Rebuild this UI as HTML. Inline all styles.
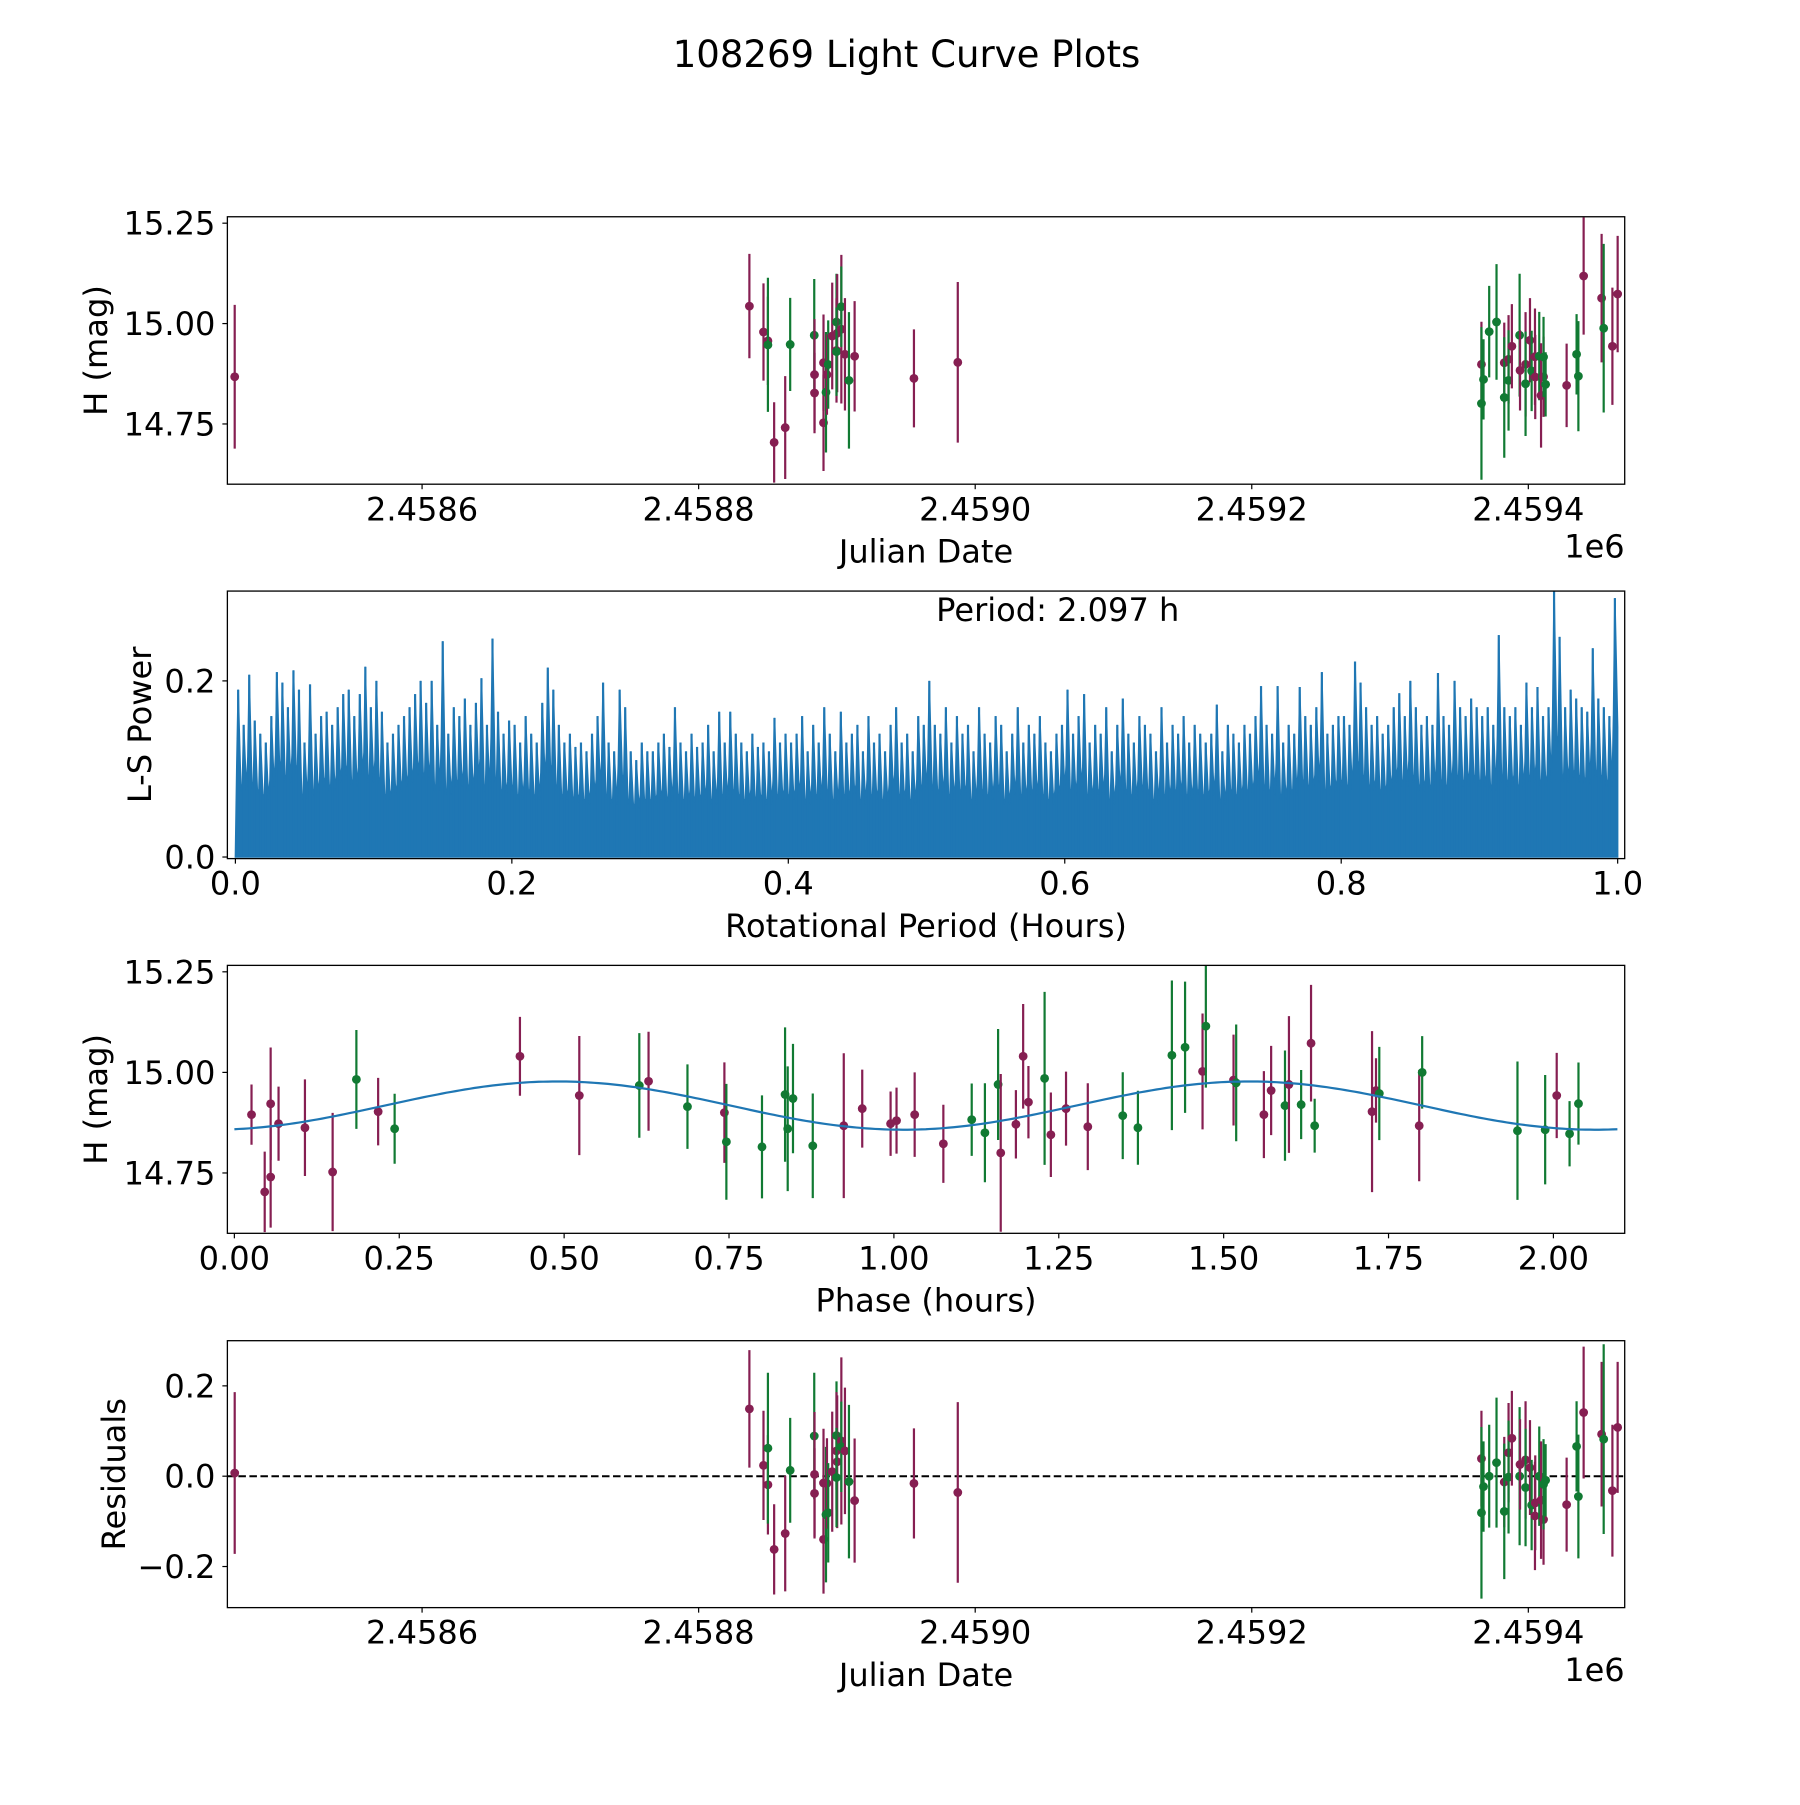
<!DOCTYPE html>
<html><head><meta charset="utf-8"><style>
html,body{margin:0;padding:0;background:#fff}
svg text{font-family:"DejaVu Sans","Liberation Sans",sans-serif;fill:#000}
</style></head><body>
<svg id="fig" width="1800" height="1800" viewBox="-2 0 1797 1793.7" preserveAspectRatio="none" xmlns="http://www.w3.org/2000/svg">
<rect x="-10" y="-10" width="1820" height="1820" fill="#fff"/>
<text x="903" y="67" font-size="37" text-anchor="middle">108269 Light Curve Plots</text>
</svg>
<script>
// ---- Panel 1/4 data (JD offset from 2458000) ----
const jdDays = [464.5,836.7,846.9,850.1,850.1,854.6,862.6,866.2,883.6,883.8,883.8,890.3,890.3,892.1,892.8,893.7,896.6,899.7,900.2,899.7,899.7,903.2,903.2,905.8,908.7,912.8,955.7,987.4,
1366.1,1367.6,1366.1,1371.7,1377.0,1382.6,1382.6,1385.7,1385.7,1388.1,1393.7,1394.0,1398.0,1398.0,1401.2,1402.4,1404.8,1405.0,1407.9,1409.2,1411.0,1411.0,1412.5,1427.7,1434.9,1436.2,1440.0,1453.0,1454.5,1460.8,1464.6];
const jdMags = [14.8675,15.0435,14.979,14.957,14.947,14.704,14.741,14.948,14.971,14.873,14.827,14.753,14.9025,14.829,14.873,14.898,14.969,15.004,14.976,14.933,14.93,14.986,15.042,14.9235,14.8585,14.9185,14.8635,14.9035,
14.8985,14.861,14.801,14.98,15.004,14.9025,14.816,14.911,14.8585,14.9435,14.971,14.8835,14.8985,14.85,14.9585,14.882,14.9175,14.867,14.919,14.821,14.8675,14.9168,14.8485,14.846,14.9235,14.869,15.1185,15.0635,14.9885,14.9435,15.0735];
const jdErrs = [.179,.13,.121,.11,.167,.10,.128,.116,.14,.138,.1,.12,.12,.15,.1,.11,.133,.12,.147,.13,.11,.185,.1,.14,.17,.1375,.122,.2,
.106,.1,.19,.114,.144,.1,.15,.11,.125,.105,.153,.1,.13,.13,.105,.1,.12,.105,.11,.13,.1,.1,.08,.104,.1,.137,.146,.16,.21,.146,.145];
const jdFilters = "mmmmgmmggmmmmgmgmgmmgmgmgmmm"+"mggggmgmgmgmmgmgmmgmmggmggmmgmm";
const residuals = [.007,.149,.024,-.019,.062,-.162,-.127,.013,.089,.004,-.038,-.14,-.015,-.085,-.016,-.081,.01,.09,.032,.056,-.003,.078,.065,.056,-.012,-.054,-.016,-.036,
.039,-.023,-.081,.0,.03,-.013,-.078,.052,-.002,.084,.0,.026,.036,-.025,.019,-.064,-.088,-.059,.0,-.053,-.096,-.018,-.009,-.063,.066,-.045,.141,.093,.082,-.032,.108];
const jdTicks = [2458600,2458800,2459000,2459200,2459400];
const jdTickLabels = ["2.4586","2.4588","2.4590","2.4592","2.4594"];

// ---- Panel 3 data (phased) ----
const phases = [.026,.046,.055,.055,.067,.107,.149,.185,.218,.243,.433,.523,.614,.628,.687,.743,.746,.80,.835,.839,.847,.877,.924,.952,.995,1.004,
1.0315,1.075,1.118,1.138,1.158,1.162,1.185,1.196,1.204,1.2285,1.238,1.261,1.294,1.347,1.370,1.4215,1.4415,1.468,1.473,1.515,1.519,1.561,1.572,1.593,1.599,1.6175,1.6325,1.638,1.725,1.731,1.736,1.7965,1.801,1.9455,1.9875,2.005,2.0245,2.038];
const phaseMags = [14.895,14.703,14.922,14.74,14.8725,14.8625,14.7525,14.9825,14.9025,14.86,15.04,14.9425,14.9675,14.978,14.915,14.90,14.8275,14.815,14.945,14.86,14.935,14.8175,14.8675,14.91,14.8725,14.88,
14.895,14.8225,14.8825,14.85,14.97,14.80,14.871,15.04,14.926,14.985,14.845,14.91,14.865,14.8925,14.8625,15.0425,15.0625,15.0025,15.115,14.981,14.974,14.895,14.955,14.9175,14.97,14.92,15.0725,14.8675,14.9025,14.955,14.9475,14.8675,15.00,14.855,14.8575,14.9425,14.8475,14.9225];
const phaseErrs = [.075,.1,.14,.126,.092,.12,.147,.123,.084,.087,.098,.148,.13,.123,.105,.125,.144,.128,.167,.155,.136,.13,.18,.097,.08,.082,
.105,.097,.09,.123,.138,.196,.085,.13,.09,.215,.105,.092,.108,.108,.092,.186,.163,.144,.153,.113,.145,.108,.111,.137,.17,.086,.145,.067,.2,.08,.116,.138,.09,.172,.136,.106,.081,.102];
const phaseFilters = "mmmmmmmgmgmmgmgmggggggmmmm"+"mmgggmmmmgmmmggggmgmgmmgmgmgmmgmgggmgg";
const fitParams = [14.9175, 0.06, 1.0485, 0.49]; // mean, amplitude, period(h), peak phase
const fitRange = [0, 2.097];

// ---- Panel 2 periodogram (bin peak powers, 0.004 h bins) ----
const lsPower = [
.19,.15,.207,.155,.14,.13,.16,.21,.198,.17,.212,.19,.13,.196,.14,.16,.165,.15,.17,.185,.19,.16,.185,.216,.17,
.2,.165,.13,.14,.15,.16,.17,.185,.2,.175,.2,.15,.245,.14,.17,.16,.18,.15,.175,.203,.15,.248,.165,.14,.155,
.15,.13,.16,.14,.13,.175,.215,.19,.15,.13,.14,.125,.13,.12,.14,.16,.198,.13,.12,.19,.17,.12,.11,.13,.12,
.12,.13,.14,.125,.17,.13,.12,.14,.125,.13,.15,.12,.165,.13,.165,.14,.13,.12,.14,.125,.13,.12,.158,.13,.14,
.13,.14,.16,.12,.15,.13,.17,.14,.12,.165,.13,.14,.15,.12,.16,.13,.14,.12,.15,.17,.13,.14,.12,.16,.15,
.2,.15,.14,.17,.13,.16,.14,.15,.12,.17,.14,.13,.16,.15,.12,.14,.17,.13,.15,.14,.16,.13,.12,.14,.15,
.19,.14,.16,.185,.13,.15,.14,.17,.12,.15,.18,.14,.13,.16,.15,.14,.12,.17,.13,.15,.14,.16,.13,.15,.14,
.13,.14,.173,.12,.15,.14,.13,.15,.14,.16,.194,.15,.14,.194,.13,.15,.14,.193,.16,.15,.17,.21,.14,.15,.16,
.16,.15,.222,.198,.17,.15,.16,.14,.15,.17,.186,.16,.2,.17,.15,.16,.15,.209,.16,.15,.2,.17,.16,.18,.17,
.16,.17,.15,.252,.17,.16,.17,.15,.198,.17,.193,.16,.17,.302,.25,.17,.19,.18,.17,.165,.237,.18,.17,.16,.294];
const lsBinWidth = 0.004;
const periodTicks = [0,0.2,0.4,0.6,0.8,1.0];
const powerTicks = [0,0.2];

const NS="http://www.w3.org/2000/svg";
const svg=document.getElementById('fig');
const COL={m:"#861f52",g:"#117a33"};
function mk(tag,attrs,parent){const e=document.createElementNS(NS,tag);for(const k in attrs)e.setAttribute(k,attrs[k]);(parent||svg).appendChild(e);return e;}
function txt(s,x,y,size,anchor,parent){const t=mk('text',{x:x,y:y,'font-size':size,'text-anchor':anchor||'middle'},parent);t.textContent=s;return t;}

const L=225,R=1620;
const panels=[[216,482.5],[589,855.6],[962,1229],[1336,1602]];
function scale(d0,d1,p0,p1){return v=>p0+(v-d0)/(d1-d0)*(p1-p0);}

function frame(i,name){
  const [t,b]=panels[i];
  const g=mk('g',{});
  
  
  const cp=mk('clipPath',{id:'clip'+i},g);
  mk('rect',{x:L,y:t,width:R-L,height:b-t},cp);
  const inner=mk('g',{'clip-path':'url(#clip'+i+')'},g);
  return {g,inner,t,b};
}
function border(f){mk('rect',{x:L,y:f.t,width:R-L,height:f.b-f.t,fill:'none',stroke:'#000','stroke-width':1.3},f.g);}
function xticks(f,vals,labels,sx){vals.forEach((v,i)=>{const x=sx(v);
  mk('line',{x1:x,x2:x,y1:f.b,y2:f.b+5,stroke:'#000','stroke-width':1.2},f.g);
  const t=txt(labels[i],x,f.b+36,32,'middle',f.g);
  
  });}
function yticks(f,vals,labels,sy){vals.forEach((v,i)=>{const y=sy(v);
  mk('line',{x1:L-5,x2:L,y1:y,y2:y,stroke:'#000','stroke-width':1.2},f.g);
  const t=txt(labels[i],213,y+11.5,32,'end',f.g);
  
  });}
function ylabel(f,s,x){const cy=(f.t+f.b)/2;const t=txt(s,x,cy,32,'middle',f.g);t.setAttribute('transform','rotate(-90 '+x+' '+cy+')');t.setAttribute('dominant-baseline','central');
  
  }
function xlabel(f,s){const t=txt(s,(L+R)/2,f.b+78,32,'middle',f.g);
  
  }
function errpoint(parent,x,y,yt,yb,c){
  const g=mk('g',{},parent);
  
  
  mk('line',{x1:x,x2:x,y1:yt,y2:yb,stroke:c,'stroke-width':2.2},g);
  mk('circle',{cx:x,cy:y,r:4.4,fill:c},g);
}
const jdMin=2458459.2,jdMax=2459469.7;
const sxJD=scale(jdMin,jdMax,L,R);

// Panel 1
(function(){
  const f=frame(0,'light-curve-panel');
  const sy=scale(14.6,15.266,f.b,f.t);
  jdDays.forEach((d,i)=>{const x=sxJD(2458000+d);errpoint(f.inner,x,sy(jdMags[i]),sy(jdMags[i]+jdErrs[i]),sy(jdMags[i]-jdErrs[i]),COL[jdFilters[i]]);});
  border(f);
  xticks(f,jdTicks,jdTickLabels,sxJD);
  yticks(f,[14.75,15.0,15.25],["14.75","15.00","15.25"],sy);
  ylabel(f,"H (mag)",94);xlabel(f,"Julian Date");
  const o=txt("1e6",R,f.b+73,32,'end',f.g);
})();

// Panel 2
(function(){
  const f=frame(1,'periodogram-panel');
  const sx=scale(-0.0058,1.0051,L,R), sy=scale(-0.0018,0.302,f.b,f.t);
  let pts=[[sx(0),sy(0)]];
  lsPower.forEach((p,i)=>{
    const c=(i+0.5)*lsBinWidth;
    const nxt=i+1<lsPower.length?lsPower[i+1]:p;
    pts.push([sx(c-lsBinWidth*0.25),sy(p*0.55)]);
    pts.push([sx(c),sy(p)]);
    pts.push([sx(c+lsBinWidth*0.5),sy(Math.min(p,nxt)*0.5)]);
  });
  pts.push([sx(lsPower.length*lsBinWidth),sy(0)]);
  const poly=mk('polygon',{points:pts.map(p=>p.join(',')).join(' '),fill:'#1f77b4',stroke:'#1f77b4','stroke-width':1.5,'stroke-linejoin':'miter'},f.inner);
  
  
  lsPower.forEach((p,i)=>{const x=sx((i+0.5)*lsBinWidth);mk('line',{x1:x,x2:x,y1:sy(0),y2:sy(p),stroke:'#1f77b4','stroke-width':2.2},f.inner);});
  border(f);
  xticks(f,periodTicks,periodTicks.map(v=>v.toFixed(1)),sx);
  yticks(f,powerTicks,powerTicks.map(v=>v.toFixed(1)),sy);
  ylabel(f,"L-S Power",138);xlabel(f,"Rotational Period (Hours)");
  const p=txt("Period: 2.097 h",1054,619,32,'middle',f.g);
})();

// Panel 3
(function(){
  const f=frame(2,'phased-curve-panel');
  const sx=scale(-0.0106,2.1081,L,R), sy=scale(14.6,15.266,f.b,f.t);
  phases.forEach((ph,i)=>errpoint(f.inner,sx(ph),sy(phaseMags[i]),sy(phaseMags[i]+phaseErrs[i]),sy(phaseMags[i]-phaseErrs[i]),COL[phaseFilters[i]]));
  const [m,a,P,p0]=fitParams;let d='';
  for(let k=0;k<=300;k++){const x=fitRange[0]+(fitRange[1]-fitRange[0])*k/300;const y=m+a*Math.cos(2*Math.PI*(x-p0)/P);d+=(k?'L':'M')+sx(x).toFixed(1)+','+sy(y).toFixed(1);}
  const fl=mk('path',{d:d,fill:'none',stroke:'#1f77b4','stroke-width':2.2},f.inner);
  
  
  border(f);
  const pt=[0,0.25,0.5,0.75,1,1.25,1.5,1.75,2];
  xticks(f,pt,pt.map(v=>v.toFixed(2)),sx);
  yticks(f,[14.75,15.0,15.25],["14.75","15.00","15.25"],sy);
  ylabel(f,"H (mag)",94);xlabel(f,"Phase (hours)");
})();

// Panel 4
(function(){
  const f=frame(3,'residuals-panel');
  const sy=scale(-0.291,0.3,f.b,f.t);
  const z=mk('line',{x1:L,x2:R,y1:sy(0),y2:sy(0),stroke:'#000','stroke-width':2,'stroke-dasharray':'7.5,3.5'},f.inner);
  
  
  jdDays.forEach((d,i)=>{const x=sxJD(2458000+d);errpoint(f.inner,x,sy(residuals[i]),sy(residuals[i]+jdErrs[i]),sy(residuals[i]-jdErrs[i]),COL[jdFilters[i]]);});
  border(f);
  xticks(f,jdTicks,jdTickLabels,sxJD);
  yticks(f,[-0.2,0,0.2],["\u22120.2","0.0","0.2"],sy);
  ylabel(f,"Residuals",112);xlabel(f,"Julian Date");
  const o=txt("1e6",R,f.b+73,32,'end',f.g);
})();
</script>
</body></html>
